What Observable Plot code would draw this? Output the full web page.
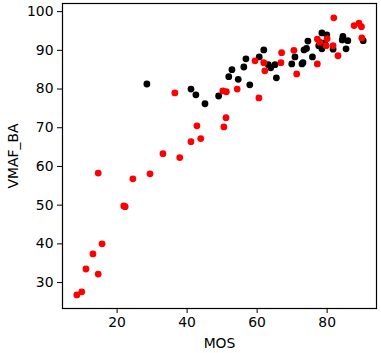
<!DOCTYPE html>
<html>
<head>
<meta charset="utf-8">
<script src="https://cdn.jsdelivr.net/npm/d3@7"></script>
<script src="https://cdn.jsdelivr.net/npm/@observablehq/plot@0.6"></script>
<style>
  html, body { margin: 0; padding: 0; background: #fff; }
  svg { font-family: "DejaVu Sans", sans-serif; }
</style>
</head>
<body>
<div id="chart"></div>
<script>
const blackMOS = [28.5, 41.1, 42.5, 45.1, 49.0, 51.9, 52.8, 54.6, 56.2, 56.8, 57.9, 60.6, 61.9, 63.2, 63.9, 65.1, 65.5, 69.9, 70.8, 72.8, 73.1, 73.4, 74.1, 74.5, 75.8, 77.6, 78.5, 78.5, 79.3, 79.9, 81.7, 84.3, 84.5, 85.4, 85.9, 90.3];
const blackVMAF = [81.3, 80.0, 78.5, 76.2, 78.2, 83.2, 85.0, 82.5, 85.7, 87.8, 81.1, 88.3, 90.1, 86.3, 85.5, 86.3, 82.9, 86.5, 88.3, 86.5, 86.8, 90.1, 90.5, 92.4, 88.3, 91.2, 94.5, 90.4, 91.9, 94.0, 90.3, 92.7, 93.6, 90.4, 92.5, 92.5];
const redMOS = [8.5, 9.9, 11.1, 13.1, 14.6, 15.7, 14.6, 21.9, 22.3, 24.5, 29.4, 33.1, 37.9, 36.5, 41.1, 42.8, 43.9, 50.2, 51.2, 51.1, 50.5, 54.3, 60.5, 59.4, 61.9, 62.2, 66.8, 67.0, 70.5, 71.3, 77.2, 77.2, 77.9, 80.0, 79.7, 81.9, 81.7, 83.1, 87.7, 89.1, 89.8, 89.9];
const redVMAF = [26.8, 27.6, 33.5, 37.4, 32.2, 40.0, 58.3, 49.8, 49.6, 56.8, 58.1, 63.3, 62.3, 79.0, 66.4, 70.5, 67.2, 79.5, 79.3, 72.6, 70.2, 80.0, 77.7, 87.3, 86.8, 84.7, 86.8, 89.4, 90.0, 83.9, 86.5, 92.9, 92.1, 93.0, 91.2, 98.4, 91.2, 88.6, 96.4, 97.0, 96.1, 93.2];
const xTicks = [20, 40, 60, 80];
const yTicks = [30, 40, 50, 60, 70, 80, 90, 100];

const blackData = blackMOS.map((x, i) => ({x, y: blackVMAF[i]}));
const redData = redMOS.map((x, i) => ({x, y: redVMAF[i]}));

const chart = Plot.plot({
  width: 381,
  height: 353,
  marginLeft: 62,
  marginRight: 5,
  marginTop: 3,
  marginBottom: 45,
  style: {fontFamily: "DejaVu Sans, sans-serif", fontSize: "13.9px", color: "black", background: "white"},
  x: {domain: [4.4, 94.1]},
  y: {domain: [23.3, 102.1]},
  marks: [
    Plot.axisX({ticks: xTicks, tickSize: 5, tickPadding: 4, fontSize: 13.9, label: "MOS", labelAnchor: "center", labelArrow: "none", labelOffset: 39, stroke: "black"}),
    Plot.axisY({ticks: yTicks, tickSize: 5, tickPadding: 4, fontSize: 13.9, label: "VMAF_BA", labelAnchor: "center", labelArrow: "none", labelOffset: 54, stroke: "black"}),
    Plot.dot(blackData, {x: "x", y: "y", r: 3.4, fill: "black"}),
    Plot.dot(redData, {x: "x", y: "y", r: 3.4, fill: "red"}),
    Plot.frame({stroke: "black", strokeWidth: 1.2})
  ]
});
document.getElementById("chart").appendChild(chart);
</script>
</body>
</html>
